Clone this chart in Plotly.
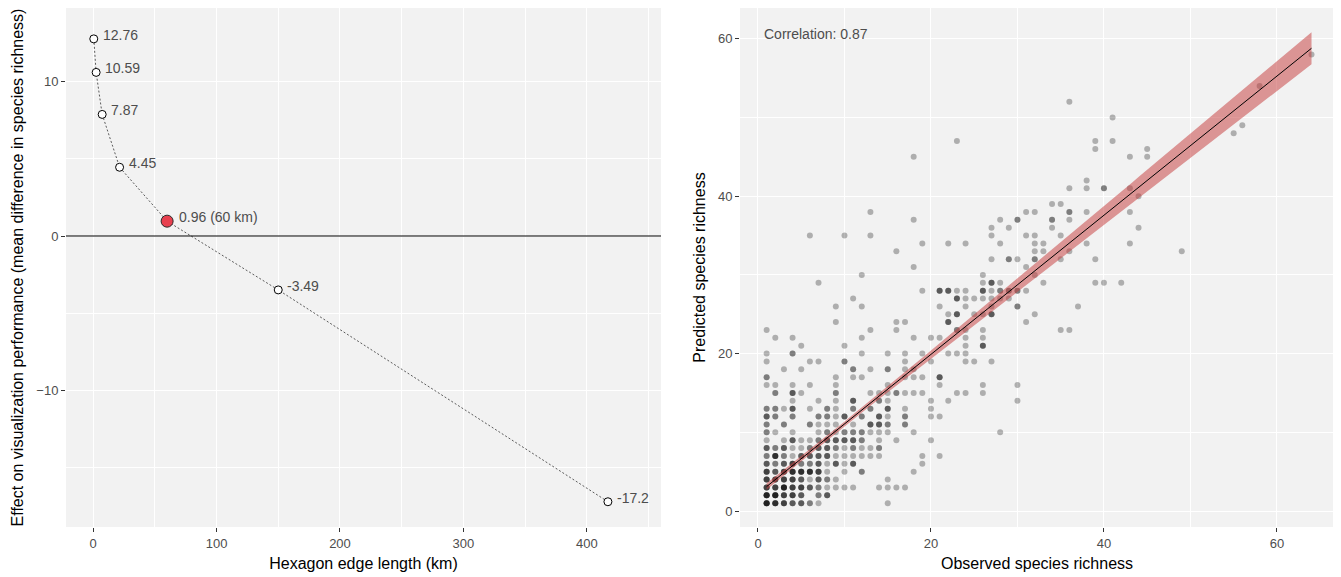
import numpy as np
import plotly.graph_objects as go

# ---------------- Left panel data ----------------
edge_km = [0.6, 2.5, 7.4, 21.5, 60, 150, 417]
effect = [12.76, 10.59, 7.87, 4.45, 0.96, -3.49, -17.2]
effect_labels = ["12.76", "10.59", "7.87", "4.45", "0.96 (60 km)", "-3.49", "-17.2"]
highlight_idx = 4

# ---------------- Right panel data (observed, predicted, number of overlapping sites) ----------------
observed = [
 1,2,3,4,5,6,7,15,
 1,2,3,4,5,7,8,
 1,2,3,4,5,6,7,8,9,10,11,14,15,16,17,
 1,2,3,4,5,6,7,8,9,15,
 1,2,3,4,5,6,7,8,10,12,18,
 1,2,3,4,5,6,7,8,9,10,11,19,
 1,2,3,4,5,6,7,8,9,10,11,12,13,14,19,21,
 1,2,3,4,5,6,7,8,9,10,11,12,13,14,
 1,3,4,5,6,7,8,9,10,11,12,14,16,20,
 1,2,4,7,8,9,10,11,12,13,14,15,18,28,
 1,3,6,7,8,9,11,13,14,15,17,
 1,2,4,7,8,9,10,12,14,15,17,20,21,
 1,2,3,4,6,8,9,11,13,15,17,20,
 4,7,9,11,14,15,20,22,30,
 2,4,5,9,13,14,15,16,17,18,19,23,24,26,
 1,2,4,6,9,15,21,26,30,
 1,9,11,12,17,18,19,21,
 3,5,11,13,15,17,18,
 1,6,7,10,17,20,24,25,27,
 1,4,12,15,17,19,22,23,24,
 5,10,24,26,
 2,4,12,18,20,21,24,26,
 1,13,16,23,24,26,35,36,
 9,16,17,22,31,
 22,23,25,26,27,32,
 9,12,21,24,27,30,37,
 11,23,24,25,26,27,28,29,
 19,21,22,23,24,26,27,28,29,30,31,
 7,26,27,28,33,39,40,42,
 12,26,32,
 18,31,
 27,29,30,32,35,39,
 16,32,33,36,49,
 19,22,24,28,32,33,38,43,
 6,10,13,27,31,32,35,
 27,29,34,44,
 18,28,30,34,36,
 13,31,32,36,38,43,
 34,35,
 44,
 36,38,40,43,
 38,
 18,43,45,
 39,45,
 23,39,41,
 55,
 56,
 41,
 36,
 58,
 64,
]
predicted = (
 [1]*8 + [2]*7 + [3]*15 + [4]*10 + [5]*11 + [6]*12 + [7]*16 + [8]*14 + [9]*14 +
 [10]*14 + [11]*11 + [12]*13 + [13]*12 + [14]*9 + [15]*14 + [16]*9 + [17]*8 +
 [18]*7 + [19]*9 + [20]*9 + [21]*4 + [22]*8 + [23]*8 + [24]*5 + [25]*6 + [26]*7 +
 [27]*8 + [28]*11 + [29]*8 + [30]*3 + [31]*2 + [32]*6 + [33]*5 + [34]*8 + [35]*7 +
 [36]*4 + [37]*5 + [38]*6 + [39]*2 + [40]*1 + [41]*4 + [42]*1 + [45]*3 + [46]*2 +
 [47]*3 + [48]*1 + [49]*1 + [50]*1 + [52]*1 + [54]*1 + [58]*1
)
overlap = [
 6,5,4,3,3,2,1,1,
 6,6,4,4,3,2,3,
 4,4,6,4,4,3,2,1,1,1,1,1,1,1,1,
 4,4,4,4,3,1,3,2,1,1,
 4,3,4,5,5,5,4,1,1,2,1,
 3,2,3,4,2,2,3,1,3,1,3,1,
 2,5,2,1,3,3,3,3,1,1,1,1,1,1,1,1,
 3,2,3,1,1,2,3,3,2,1,2,1,1,2,
 1,1,3,1,1,2,3,3,3,3,2,1,1,1,
 2,1,1,1,2,1,2,2,2,1,1,1,1,1,
 2,2,2,1,1,1,1,3,3,2,2,
 3,2,2,2,2,1,3,2,3,1,2,1,1,
 2,2,1,3,1,2,1,2,2,3,1,1,
 1,1,1,3,2,1,1,1,1,
 2,3,1,2,1,1,1,2,1,1,1,1,1,1,
 1,1,1,1,1,1,1,1,1,
 2,1,1,1,1,1,1,3,
 1,1,2,1,2,1,1,
 1,1,1,2,1,1,1,1,1,
 1,2,1,1,1,1,1,1,1,
 1,1,1,3,
 1,1,1,1,1,1,1,1,
 1,1,1,2,1,1,1,1,
 1,1,1,3,1,
 1,3,1,1,3,1,
 1,1,1,1,1,2,1,
 1,3,1,1,1,1,1,1,
 1,3,3,1,1,3,1,2,2,2,1,
 1,1,3,1,1,1,1,1,
 1,1,1,
 1,1,
 1,2,1,2,1,1,
 1,1,1,1,1,
 1,1,1,1,1,1,1,1,
 1,1,1,1,1,1,1,
 1,1,1,1,
 1,1,2,2,1,
 1,1,1,2,1,1,
 1,1,
 1,
 1,1,2,1,
 1,
 1,1,1,
 1,1,
 1,1,1,
 1,
 1,
 1,
 1,
 1,
 1,
]

# linear fit (geom_smooth, method = "lm")
fit_intercept = 2.22
fit_slope = 0.884
ci_min_halfwidth = 0.3
ci_center_x = 9.0
ci_slope_term = 0.0366
correlation_text = "Correlation: 0.87"
zero_effect = 0

# ---------------- build figure ----------------
# the page body has an 8px margin; the figure is sized so it fills the 1341x577 window
OFF = 8
W, H = 1341 - OFF, 577 - OFF
FONT = "Liberation Sans, Arial, Helvetica, sans-serif"
TICK_FONT = dict(family=FONT, size=13, color="#4D4D4D")
TITLE_FONT = dict(family=FONT, size=16, color="black")
PANEL_BG = "#F2F2F2"

obs_all = np.repeat(np.array(observed), np.array(overlap))
pred_all = np.repeat(np.array(predicted), np.array(overlap))

fig = go.Figure()

# horizontal reference line at zero effect
fig.add_shape(type="line", xref="x domain", yref="y", x0=0, x1=1,
              y0=zero_effect, y1=zero_effect,
              line=dict(color="black", width=1), layer="above")

fig.add_trace(go.Scatter(x=edge_km, y=effect, mode="lines",
                         line=dict(color="#333333", width=0.8, dash="2px,2px"),
                         xaxis="x", yaxis="y", hoverinfo="skip", showlegend=False))
norm_x = [v for i, v in enumerate(edge_km) if i != highlight_idx]
norm_y = [v for i, v in enumerate(effect) if i != highlight_idx]
fig.add_trace(go.Scatter(x=norm_x, y=norm_y, mode="markers",
                         marker=dict(size=8, color="white", line=dict(color="black", width=1)),
                         xaxis="x", yaxis="y", showlegend=False))
fig.add_trace(go.Scatter(x=[edge_km[highlight_idx]], y=[effect[highlight_idx]], mode="markers",
                         marker=dict(size=12, color="#E8404F", line=dict(color="#2a2a2a", width=1)),
                         xaxis="x", yaxis="y", showlegend=False))

annotations = []
for i, (xv, yv, t) in enumerate(zip(edge_km, effect, effect_labels)):
    annotations.append(dict(x=xv, y=yv, xref="x", yref="y", text=t, showarrow=False,
                            xanchor="left", yanchor="middle",
                            xshift=9.5 if i == highlight_idx else 7, yshift=4,
                            font=dict(family=FONT, size=14, color="#4D4D4D")))

# right panel
fig.add_trace(go.Scatter(x=obs_all, y=pred_all, mode="markers",
                         marker=dict(size=6, color="black", opacity=0.28, line=dict(width=0)),
                         xaxis="x2", yaxis="y2", showlegend=False))

xs = np.linspace(min(observed), max(observed), 80)
fit = fit_intercept + fit_slope * xs
hw = np.sqrt(ci_min_halfwidth**2 + (ci_slope_term * (xs - ci_center_x))**2)
fig.add_trace(go.Scatter(x=np.concatenate([xs, xs[::-1]]),
                         y=np.concatenate([fit + hw, (fit - hw)[::-1]]),
                         fill="toself", fillcolor="rgba(198,62,62,0.52)",
                         line=dict(width=0), mode="lines",
                         xaxis="x2", yaxis="y2", hoverinfo="skip", showlegend=False))
fig.add_trace(go.Scatter(x=xs, y=fit, mode="lines", line=dict(color="black", width=1),
                         xaxis="x2", yaxis="y2", hoverinfo="skip", showlegend=False))

annotations.append(dict(x=0.5, y=60.6, xref="x2", yref="y2", text=correlation_text,
                        showarrow=False, xanchor="left", yanchor="middle",
                        font=dict(family=FONT, size=14, color="#4D4D4D")))

def px_x(a):
    return min(1.0, max(0.0, (a - OFF) / W))

def px_y(a):
    return min(1.0, max(0.0, 1 - (a - OFF) / H))

# panel top is at 7px in the reference; the page offset makes 8px the highest reachable,
# so adjust the y ranges so data positions still match
TOP_PX, BOT_PX = 8, 527
def y_range(val_at_px_a, px_a, px_per_unit):
    top = val_at_px_a + (px_a - TOP_PX) / px_per_unit
    bot = val_at_px_a - (BOT_PX - px_a) / px_per_unit
    return [bot, top]

common_axis = dict(showgrid=True, gridcolor="white", gridwidth=1.1, zeroline=False,
                   showline=False, ticks="outside", ticklen=4, tickwidth=1,
                   tickcolor="#333333", tickfont=TICK_FONT, automargin=False)

fig.update_layout(
    width=W, height=H,
    margin=dict(l=0, r=0, t=0, b=0),
    paper_bgcolor="white", plot_bgcolor=PANEL_BG,
    showlegend=False,
    annotations=annotations,
    xaxis=dict(domain=[px_x(66), px_x(661)], range=[-21.9, 460],
               tickvals=[0, 100, 200, 300, 400],
               minor=dict(dtick=50, tick0=0, showgrid=True, gridcolor="white", gridwidth=0.55, ticks=""),
               title=dict(text="Hexagon edge length (km)", font=TITLE_FONT, standoff=8),
               anchor="y", **common_axis),
    yaxis=dict(domain=[px_y(BOT_PX), px_y(TOP_PX)], range=y_range(0, 236, 15.45),
               tickvals=[-10, 0, 10],
               minor=dict(dtick=5, tick0=0, showgrid=True, gridcolor="white", gridwidth=0.55, ticks=""),
               title=dict(text="Effect on visualization performance (mean difference in species richness)",
                          font=TITLE_FONT, standoff=8),
               anchor="x", **common_axis),
    xaxis2=dict(domain=[px_x(740), px_x(1334)], range=[-2.08, 66.6],
                tickvals=[0, 20, 40, 60],
                minor=dict(dtick=10, tick0=0, showgrid=True, gridcolor="white", gridwidth=0.55, ticks=""),
                title=dict(text="Observed species richness", font=TITLE_FONT, standoff=8),
                anchor="y2", **common_axis),
    yaxis2=dict(domain=[px_y(BOT_PX), px_y(TOP_PX)], range=y_range(0, 511, 7.87),
                tickvals=[0, 20, 40, 60],
                minor=dict(dtick=10, tick0=0, showgrid=True, gridcolor="white", gridwidth=0.55, ticks=""),
                title=dict(text="Predicted species richness", font=TITLE_FONT, standoff=8),
                anchor="x2", **common_axis),
)

fig.write_html("out.html")
